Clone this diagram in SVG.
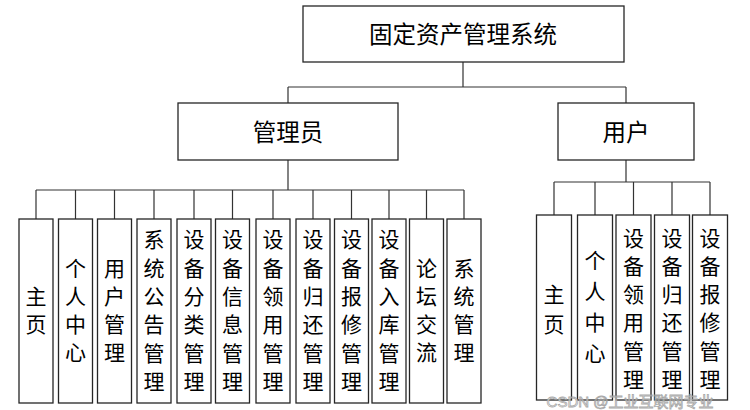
<svg xmlns="http://www.w3.org/2000/svg" width="750" height="410" viewBox="0 0 750 410">
<style>
.box{fill:#fff;stroke:#262626;stroke-width:1.3}
.ln{fill:none;stroke:#333;stroke-width:1.2}
.t{font-family:"Noto Sans CJK SC","Noto Sans",sans-serif;font-size:21px;text-anchor:middle;dominant-baseline:central;fill:#000}
.h{font-size:23.5px}
.wm{font-family:"Liberation Sans","Noto Sans CJK SC",sans-serif;font-size:15px;fill:#fff;stroke:#999;stroke-width:0.8;opacity:0.85;text-anchor:middle;dominant-baseline:central}
</style>
<rect width="750" height="410" fill="#fff"/>
<g id="connectors" class="ln">
<path d="M463,62V87M288,87H626M288,87V103M626,87V103"/>
<path d="M288,160V190M36,190H464M36,190V219M75.5,190V219M114.5,190V219M154,190V219M194,190V219M232.5,190V219M273,190V219M313,190V219M351.5,190V219M389,190V219M426.5,190V219M464,190V219"/>
<path d="M626,160V182M554,182H710M554,182V215M595,182V215M633.5,182V215M672,182V215M710,182V215"/>
</g>
<g id="root"><rect class="box" x="303" y="6" width="321" height="56"/><text class="t h" x="463" y="33">固定资产管理系统</text></g>
<g id="admin"><rect class="box" x="178" y="103" width="220" height="57"/><text class="t h" x="288" y="131">管理员</text></g>
<g id="user"><rect class="box" x="558" y="103" width="136" height="57"/><text class="t h" x="626" y="131">用户</text></g>

<g id="a1"><rect class="box" x="19" y="219" width="34" height="184"/><text class="t"><tspan x="36" y="295">主</tspan><tspan x="36" dy="28.3">页</tspan></text></g>
<g id="a2"><rect class="box" x="58.5" y="219" width="34" height="184"/><text class="t"><tspan x="75.5" y="266.5">个</tspan><tspan x="75.5" dy="28.3">人</tspan><tspan x="75.5" dy="28.3">中</tspan><tspan x="75.5" dy="28.3">心</tspan></text></g>
<g id="a3"><rect class="box" x="97.5" y="219" width="34" height="184"/><text class="t"><tspan x="114.5" y="266.5">用</tspan><tspan x="114.5" dy="28.3">户</tspan><tspan x="114.5" dy="28.3">管</tspan><tspan x="114.5" dy="28.3">理</tspan></text></g>
<g id="a4"><rect class="box" x="137" y="219" width="34" height="184"/><text class="t"><tspan x="154" y="238.3">系</tspan><tspan x="154" dy="28.3">统</tspan><tspan x="154" dy="28.3">公</tspan><tspan x="154" dy="28.3">告</tspan><tspan x="154" dy="28.3">管</tspan><tspan x="154" dy="28.3">理</tspan></text></g>
<g id="a5"><rect class="box" x="177" y="219" width="34" height="184"/><text class="t"><tspan x="194" y="238.3">设</tspan><tspan x="194" dy="28.3">备</tspan><tspan x="194" dy="28.3">分</tspan><tspan x="194" dy="28.3">类</tspan><tspan x="194" dy="28.3">管</tspan><tspan x="194" dy="28.3">理</tspan></text></g>
<g id="a6"><rect class="box" x="215.5" y="219" width="34" height="184"/><text class="t"><tspan x="232.5" y="238.3">设</tspan><tspan x="232.5" dy="28.3">备</tspan><tspan x="232.5" dy="28.3">信</tspan><tspan x="232.5" dy="28.3">息</tspan><tspan x="232.5" dy="28.3">管</tspan><tspan x="232.5" dy="28.3">理</tspan></text></g>
<g id="a7"><rect class="box" x="256" y="219" width="34" height="184"/><text class="t"><tspan x="273" y="238.3">设</tspan><tspan x="273" dy="28.3">备</tspan><tspan x="273" dy="28.3">领</tspan><tspan x="273" dy="28.3">用</tspan><tspan x="273" dy="28.3">管</tspan><tspan x="273" dy="28.3">理</tspan></text></g>
<g id="a8"><rect class="box" x="296" y="219" width="34" height="184"/><text class="t"><tspan x="313" y="238.3">设</tspan><tspan x="313" dy="28.3">备</tspan><tspan x="313" dy="28.3">归</tspan><tspan x="313" dy="28.3">还</tspan><tspan x="313" dy="28.3">管</tspan><tspan x="313" dy="28.3">理</tspan></text></g>
<g id="a9"><rect class="box" x="334.5" y="219" width="34" height="184"/><text class="t"><tspan x="351.5" y="238.3">设</tspan><tspan x="351.5" dy="28.3">备</tspan><tspan x="351.5" dy="28.3">报</tspan><tspan x="351.5" dy="28.3">修</tspan><tspan x="351.5" dy="28.3">管</tspan><tspan x="351.5" dy="28.3">理</tspan></text></g>
<g id="a10"><rect class="box" x="372" y="219" width="34" height="184"/><text class="t"><tspan x="389" y="238.3">设</tspan><tspan x="389" dy="28.3">备</tspan><tspan x="389" dy="28.3">入</tspan><tspan x="389" dy="28.3">库</tspan><tspan x="389" dy="28.3">管</tspan><tspan x="389" dy="28.3">理</tspan></text></g>
<g id="a11"><rect class="box" x="409.5" y="219" width="34" height="184"/><text class="t"><tspan x="426.5" y="266.5">论</tspan><tspan x="426.5" dy="28.3">坛</tspan><tspan x="426.5" dy="28.3">交</tspan><tspan x="426.5" dy="28.3">流</tspan></text></g>
<g id="a12"><rect class="box" x="447" y="219" width="34" height="184"/><text class="t"><tspan x="464" y="266.5">系</tspan><tspan x="464" dy="28.3">统</tspan><tspan x="464" dy="28.3">管</tspan><tspan x="464" dy="28.3">理</tspan></text></g>

<g id="u1"><rect class="box" x="536.5" y="215" width="35" height="185"/><text class="t"><tspan x="554" y="293">主</tspan><tspan x="554" dy="29.5">页</tspan></text></g>
<g id="u2"><rect class="box" x="577.5" y="215" width="35" height="185"/><text class="t"><tspan x="595" y="259">个</tspan><tspan x="595" dy="31">人</tspan><tspan x="595" dy="31">中</tspan><tspan x="595" dy="31">心</tspan></text></g>
<g id="u3"><rect class="box" x="616" y="215" width="35" height="185"/><text class="t"><tspan x="633.5" y="236.5">设</tspan><tspan x="633.5" dy="28.3">备</tspan><tspan x="633.5" dy="28.3">领</tspan><tspan x="633.5" dy="28.3">用</tspan><tspan x="633.5" dy="28.3">管</tspan><tspan x="633.5" dy="28.3">理</tspan></text></g>
<g id="u4"><rect class="box" x="654.5" y="215" width="35" height="185"/><text class="t"><tspan x="672" y="236.5">设</tspan><tspan x="672" dy="28.3">备</tspan><tspan x="672" dy="28.3">归</tspan><tspan x="672" dy="28.3">还</tspan><tspan x="672" dy="28.3">管</tspan><tspan x="672" dy="28.3">理</tspan></text></g>
<g id="u5"><rect class="box" x="692.5" y="215" width="35" height="185"/><text class="t"><tspan x="710" y="236.5">设</tspan><tspan x="710" dy="28.3">备</tspan><tspan x="710" dy="28.3">报</tspan><tspan x="710" dy="28.3">修</tspan><tspan x="710" dy="28.3">管</tspan><tspan x="710" dy="28.3">理</tspan></text></g>

<text class="wm" x="630" y="401">CSDN @工业互联网专业</text>
</svg>
